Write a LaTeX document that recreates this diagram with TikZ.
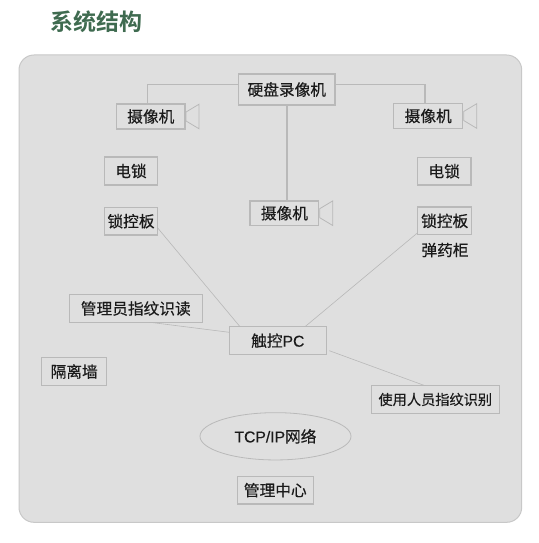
\documentclass[tikz,border=0pt]{standalone}
\usepackage{fontspec}
\setmainfont{Noto Sans CJK SC}[RawFeature={embolden=0.35}]
\newfontfamily\titlefont{Noto Sans CJK SC Bold}
\newfontfamily\latfont{Liberation Sans}[RawFeature={embolden=0.25}]
\usetikzlibrary{calc,shapes.geometric}
\definecolor{panelfill}{HTML}{DFDFDF}
\definecolor{panelline}{HTML}{C8C8C8}
\definecolor{boxline}{HTML}{B9B9B9}
\definecolor{thinline}{HTML}{B8B8B8}
\definecolor{titlegreen}{HTML}{3F6B50}
\definecolor{ink}{HTML}{1A1A1A}
\newcommand{\conehere}[1]{\draw[thinconn,line width=.8pt] ($(#1.east)+(1,-4.5)$) -- ($(#1.east)+(14,-12.3)$) -- ($(#1.east)+(14,12.3)$) -- ($(#1.east)+(1,4.5)$) -- cycle;}
\tikzset{
  x=1pt,y=-1pt,
  boxnode/.style={draw=boxline,line width=1.2pt,fill=panelfill,inner sep=0pt,outer sep=0pt,text=ink,font=\fontsize{15.7pt}{18pt}\selectfont},
  conn/.style={draw=boxline,line width=1.2pt},
  thinconn/.style={draw=thinline,line width=.6pt},
  plain/.style={inner sep=0pt,text=ink,font=\fontsize{15.7pt}{18pt}\selectfont},
}
\begin{document}
\begin{tikzpicture}
\useasboundingbox (0,0) rectangle (538,543);
\fill[white] (0,0) rectangle (538,543);
\draw[draw=panelline,fill=panelfill,line width=1pt,rounded corners=15pt] (19,55) rectangle (521.7,522.3);
\node[inner sep=0pt,text=titlegreen,font=\fontsize{23pt}{26pt}\selectfont\titlefont] (title) at (96,22) {系统结构};
\node[boxnode,minimum width=96.5pt,minimum height=31pt] (dvr) at (286.8,89.5) {硬盘录像机};
\node[boxnode,minimum width=68.5pt,minimum height=25pt] (camL) at (150.8,116.5) {摄像机};
\node[boxnode,minimum width=69pt,minimum height=24.6pt] (camR) at (428.2,116) {摄像机};
\node[boxnode,minimum width=68.7pt,minimum height=24.3pt] (camC) at (284.4,213.2) {摄像机};
\node[boxnode,minimum width=53.4pt,minimum height=28pt] (lockL) at (131,171) {电锁};
\node[boxnode,minimum width=53.7pt,minimum height=27.7pt] (lockR) at (444.2,171.2) {电锁};
\node[boxnode,minimum width=53.4pt,minimum height=27.7pt] (ctrlL) at (131,221.2) {锁控板};
\node[boxnode,minimum width=54pt,minimum height=27.7pt] (ctrlR) at (444.7,220.9) {锁控板};
\node[plain] (cabinet) at (445,250) {弹药柜};
\node[boxnode,minimum width=133pt,minimum height=27.6pt] (admin) at (135.8,308.5) {管理员指纹识读};
\node[boxnode,minimum width=97pt,minimum height=28pt] (pc) at (277.8,340.7) {触控{\latfont PC}};
\node[boxnode,minimum width=128pt,minimum height=27.6pt,font=\fontsize{14.2pt}{17pt}\selectfont] (user) at (435.3,399.5) {使用人员指纹识别};
\node[boxnode,minimum width=65pt,minimum height=27.6pt] (wall) at (74.2,371.5) {隔离墙};
\node[ellipse,draw=boxline,line width=.8pt,fill=panelfill,inner sep=0pt,minimum width=151pt,minimum height=47.3pt,text=ink,font=\fontsize{15.7pt}{18pt}\selectfont] (net) at (275.5,436.3) {{\latfont TCP/IP}网络};
\node[boxnode,minimum width=76pt,minimum height=27.7pt] (center) at (275.3,490.2) {管理中心};
\coordinate (jL) at (147.7,84.3);
\coordinate (jR) at (425,84.3);
\coordinate (a1) at (157.7,228);
\coordinate (a2) at (240,326.7);
\coordinate (b1) at (417.7,232.7);
\coordinate (b2) at (305,326.7);
\coordinate (c1) at (150,322.3);
\coordinate (c2) at (229.3,332.3);
\coordinate (d1) at (329.3,350.7);
\coordinate (d2) at (425,385.7);
\draw[conn] (dvr.west |- jL) -- (jL) -- (jL |- camL.north);
\draw[conn] (dvr.east |- jR) -- (jR) -- (jR |- camR.north);
\draw[conn] (dvr.south -| camC.north) ++(2.6,0) -- ++(0,96);
\draw[thinconn] (a1) -- (a2);
\draw[thinconn] (b1) -- (b2);
\draw[thinconn] (c1) -- (c2);
\draw[thinconn] (d1) -- (d2);
\conehere{camL}
\conehere{camR}
\conehere{camC}
\end{tikzpicture}
\end{document}
